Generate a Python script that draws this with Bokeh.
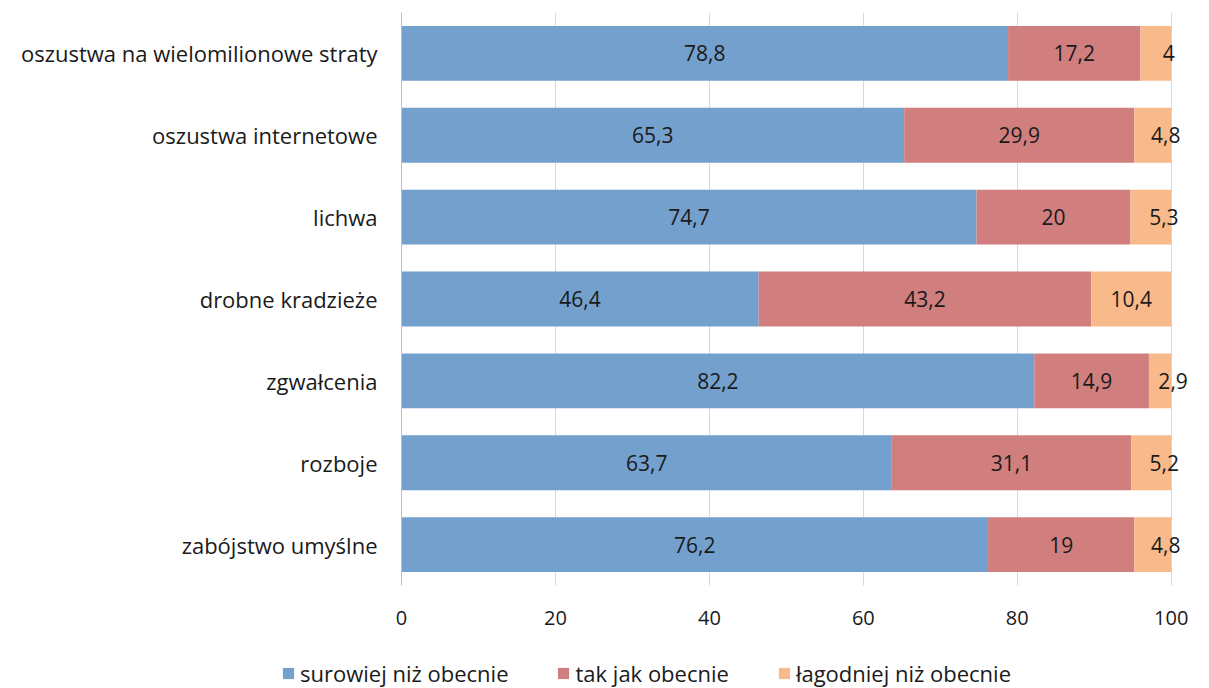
from bokeh.plotting import figure
from bokeh.layouts import column
from bokeh.models import ColumnDataSource, Legend, LegendItem, FactorRange, Range1d
from bokeh.embed import file_html
from bokeh.resources import INLINE
from bokeh.core.properties import value

# ---- data (top to bottom as in the chart) ----
categories = [
    "oszustwa na wielomilionowe straty",
    "oszustwa internetowe",
    "lichwa",
    "drobne kradzieże",
    "zgwałcenia",
    "rozboje",
    "zabójstwo umyślne",
]
surowiej = [78.8, 65.3, 74.7, 46.4, 82.2, 63.7, 76.2]
tak_jak = [17.2, 29.9, 20.0, 43.2, 14.9, 31.1, 19.0]
lagodniej = [4.0, 4.8, 5.3, 10.4, 2.9, 5.2, 4.8]
series_names = ["surowiej niż obecnie", "tak jak obecnie", "łagodniej niż obecnie"]
x_ticks = [0, 20, 40, 60, 80, 100]

colors = ["#74A0CD", "#D07E7E", "#F9BA8B"]
FONT = "Open Sans"
TXT = "#1a1a1a"


def fmt(v):
    return f"{v:g}".replace(".", ",")


series = [surowiej, tak_jak, lagodniej]
keys = ["s0", "s1", "s2"]
src = ColumnDataSource(dict(cat=categories, s0=surowiej, s1=tak_jak, s2=lagodniej))

p = figure(
    width=1209, height=640,
    y_range=FactorRange(*list(reversed(categories))),
    x_range=(0, 102.5),
    output_backend="svg", toolbar_location=None,
    min_border_left=401, min_border_right=19, min_border_top=12, min_border_bottom=55,
)
p.frame_align = False
p.outline_line_color = None
p.background_fill_color = "white"

renderers = p.hbar_stack(keys, y="cat", height=0.67, color=colors, line_color=None, source=src)

# data labels
xs, ys, texts, offs = [], [], [], []
for i, c in enumerate(categories):
    left = 0.0
    for j, ser in enumerate(series):
        v = ser[i]
        xs.append(left + v / 2)
        ys.append(c)
        texts.append(fmt(v))
        offs.append(13 if (j == 2 and v < 6) else 0)
        left += v
lab = ColumnDataSource(dict(x=xs, y=ys, t=texts, o=offs))
p.text(x="x", y="y", text="t", x_offset="o", source=lab, text_align="center",
       text_baseline="middle", text_font=value(FONT), text_font_size="21px", text_color=TXT)

# axes
p.ygrid.grid_line_color = None
p.xgrid.grid_line_color = "#D9D9D9"
p.xgrid.ticker = x_ticks
p.xaxis.ticker = x_ticks
p.xaxis.axis_line_color = None
p.xaxis.major_tick_line_color = None
p.xaxis.minor_tick_line_color = None
p.xaxis.major_label_standoff = 19
p.xaxis.major_label_text_font = FONT
p.xaxis.major_label_text_font_size = "20px"
p.xaxis.major_label_text_color = TXT

p.yaxis.axis_line_color = "#BFBFBF"
p.yaxis.major_tick_line_color = None
p.yaxis.minor_tick_line_color = None
p.yaxis.major_label_standoff = 18
p.yaxis.major_label_text_font = FONT
p.yaxis.major_label_text_font_size = "22px"
p.yaxis.major_label_text_color = TXT

# legend strip below the chart (its glyph proxies sit outside the visible range)
leg = figure(width=1209, height=48, output_backend="svg", toolbar_location=None,
             x_axis_location=None, y_axis_location=None,
             x_range=Range1d(10, 11), y_range=Range1d(10, 11),
             min_border_left=0, min_border_right=0, min_border_top=0, min_border_bottom=0)
leg.frame_align = False
leg.outline_line_color = None
leg.grid.grid_line_color = None
proxies = [leg.hbar(y=[0], left=[0], right=[1], height=1, color=c, line_color=None) for c in colors]
legend = Legend(
    items=[LegendItem(label=n, renderers=[r]) for n, r in zip(series_names, proxies)],
    orientation="horizontal", location=(281, 0),
    glyph_width=14, glyph_height=14, label_standoff=5, spacing=48,
    padding=0, margin=0, border_line_color=None, background_fill_alpha=0,
    label_text_font=FONT, label_text_font_size="22px", label_text_color=TXT, label_height=14,
)
leg.add_layout(legend, "center")

open("out.html", "w").write(file_html(column(p, leg, spacing=0), INLINE))
